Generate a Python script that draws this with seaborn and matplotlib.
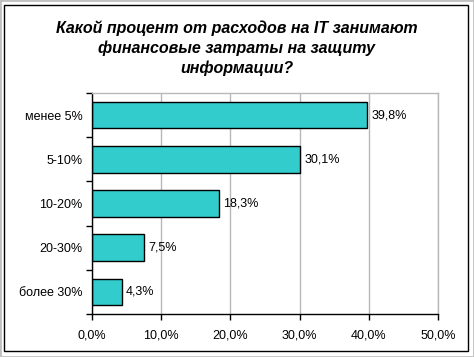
import matplotlib
matplotlib.use("Agg")
import matplotlib.pyplot as plt
import matplotlib.ticker as mticker
from matplotlib.patches import Rectangle
import pandas as pd
import seaborn as sns

# data
categories = ['менее 5%', '5-10%', '10-20%', '20-30%', 'более 30%']
values = [39.8, 30.1, 18.3, 7.5, 4.3]
title = 'Какой процент от расходов на IT занимают\nфинансовые затраты на защиту\nинформации?'

df = pd.DataFrame({'cat': categories, 'val': values})

sns.set_style("white")
plt.rcParams['font.family'] = ['Liberation Sans', 'DejaVu Sans']
plt.rcParams['text.color'] = 'black'
plt.rcParams['xtick.color'] = 'black'
plt.rcParams['ytick.color'] = 'black'

fig = plt.figure(figsize=(4.74, 3.57), dpi=100)
ax = fig.add_axes([92 / 474, 43 / 357, 346 / 474, 221 / 357])

sns.barplot(data=df, x='val', y='cat', orient='h', color='#33CCCC',
            saturation=1, edgecolor='black', linewidth=1, width=0.6, ax=ax)

ax.set_xlim(0, 50)
ax.set_ylim(4.5, -0.5)
ax.set_xticks([0, 10, 20, 30, 40, 50])
ax.xaxis.set_major_formatter(mticker.FuncFormatter(lambda v, p: f'{v:.1f}%'.replace('.', ',')))
ax.grid(axis='x', color='#b8b8b8', linewidth=1)
ax.set_axisbelow(True)
ax.set_xlabel('')
ax.set_ylabel('')

# category boundary ticks on the y axis
ax.set_yticks([i - 0.5 for i in range(len(categories) + 1)], minor=True)
ax.tick_params(axis='y', which='minor', length=4, width=1, color='black', direction='out', left=True)
ax.tick_params(axis='y', which='major', length=0, pad=7, labelsize=9)
ax.tick_params(axis='x', which='major', length=4, width=1, color='black', direction='out',
               bottom=True, labelsize=9, pad=7)

for side in ['left', 'bottom']:
    ax.spines[side].set_color('black')
    ax.spines[side].set_linewidth(1)
for side in ['top', 'right']:
    ax.spines[side].set_color('#b8b8b8')
    ax.spines[side].set_linewidth(1)

for i, v in enumerate(values):
    ax.text(v + 0.6, i, f'{v:.1f}%'.replace('.', ','), va='center', ha='left', fontsize=9)

fig.text(0.5, 0.942, title, ha='center', va='top', fontsize=11.5,
         fontweight='bold', fontstyle='italic', linespacing=1.36)

# outer frames
fig.patches.append(Rectangle((0, 0), 1, 1, transform=fig.transFigure, fill=False,
                             edgecolor='#c0c0c0', linewidth=2))
fig.patches.append(Rectangle((4 / 474, 6 / 357), 464 / 474, 346 / 357, transform=fig.transFigure,
                             fill=False, edgecolor='black', linewidth=1))

fig.savefig('out.png', dpi=100)
